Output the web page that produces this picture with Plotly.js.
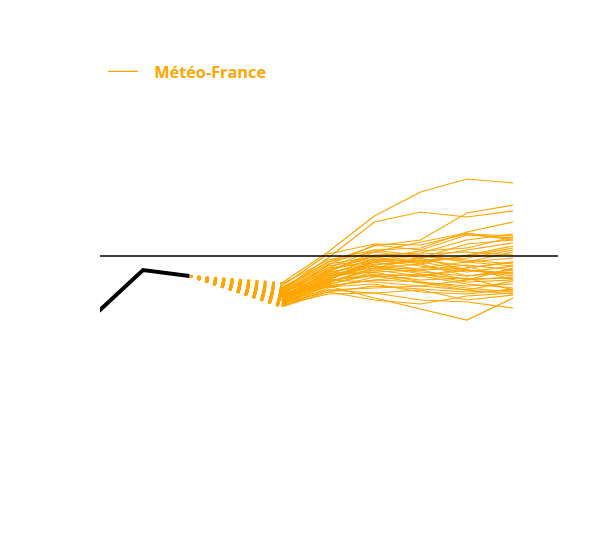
<!DOCTYPE html>
<html>
<head>
<meta charset="utf-8">
<script src="https://cdn.plot.ly/plotly-3.0.1.min.js"></script>
<style>html,body{margin:0;padding:0;background:#fff;}#chart{width:600px;height:540px;}</style>
</head>
<body>
<div id="chart"></div>
<script>
// Observed anomaly (months 0..2) and Météo-France ensemble members (months 4..9)
var obsMonths = [0, 1, 2];
var obsValues = [-1.14, -0.28, -0.40];
var fcMonths = [4, 5, 6, 7, 8, 9];
var members = [
  [-0.54, 0.08, 0.80, 1.28, 1.54, 1.46],
  [-0.68, -0.04, 0.68, 0.88, 0.78, 0.90],
  [-0.64, -0.12, 0.20, 0.32, 0.86, 1.02],
  [-0.72, -0.24, 0.12, 0.16, 0.48, 0.68],
  [-0.60, 0.04, 0.24, 0.22, 0.44, 0.40],
  [-0.78, -0.18, 0.22, 0.12, 0.42, 0.36],
  [-0.84, -0.32, 0.08, 0.28, 0.46, 0.32],
  [-0.74, -0.28, 0.02, 0.06, 0.32, 0.44],
  [-0.88, -0.38, -0.04, 0.10, 0.16, 0.38],
  [-0.80, -0.34, -0.12, -0.04, 0.12, 0.26],
  [-0.68, -0.20, -0.06, -0.12, 0.00, 0.16],
  [-0.92, -0.48, -0.12, 0.02, -0.12, 0.08],
  [-0.86, -0.44, -0.18, -0.08, -0.04, 0.12],
  [-0.96, -0.52, -0.24, -0.16, 0.02, 0.20],
  [-0.82, -0.40, -0.28, -0.24, -0.12, -0.04],
  [-0.90, -0.46, -0.20, -0.28, -0.24, -0.12],
  [-0.76, -0.28, -0.08, -0.20, -0.32, -0.20],
  [-0.98, -0.58, -0.32, -0.28, -0.18, -0.28],
  [-0.94, -0.54, -0.24, -0.32, -0.40, -0.32],
  [-0.84, -0.40, -0.16, -0.12, -0.28, -0.40],
  [-0.88, -0.50, -0.36, -0.40, -0.28, -0.36],
  [-1.00, -0.64, -0.42, -0.36, -0.46, -0.44],
  [-0.80, -0.32, -0.20, -0.36, -0.52, -0.48],
  [-0.92, -0.56, -0.38, -0.48, -0.44, -0.68],
  [-0.96, -0.60, -0.48, -0.52, -0.64, -0.72],
  [-0.86, -0.48, -0.52, -0.60, -0.68, -0.76],
  [-1.02, -0.72, -0.60, -0.66, -0.72, -0.68],
  [-0.90, -0.68, -0.74, -0.88, -0.92, -1.04],
  [-0.80, -0.60, -0.84, -1.06, -1.28, -0.84],
  [-0.94, -0.72, -0.88, -0.96, -0.80, -0.74],
  [-0.98, -0.76, -0.74, -0.68, -0.88, -0.78],
  [-0.84, -0.62, -0.56, -0.72, -0.76, -0.66],
  [-0.72, -0.40, -0.32, -0.52, -0.60, -0.56],
  [-0.88, -0.52, -0.28, -0.40, -0.56, -0.64],
  [-0.78, -0.44, -0.12, -0.08, -0.20, -0.48],
  [-0.66, -0.16, -0.02, -0.16, -0.40, -0.28],
  [-0.74, -0.30, 0.00, 0.00, -0.08, -0.16],
  [-0.90, -0.46, -0.08, 0.04, 0.08, 0.02],
  [-0.80, -0.36, -0.24, -0.04, 0.24, 0.32],
  [-0.70, -0.24, -0.12, -0.28, -0.48, -0.42],
  [-1.00, -0.68, -0.64, -0.60, -0.48, -0.24],
  [-0.64, -0.12, 0.08, -0.04, -0.28, -0.34],
  [-0.56, -0.08, 0.12, 0.00, -0.12, -0.20],
  [-0.94, -0.60, -0.48, -0.40, -0.24, -0.12],
  [-0.82, -0.48, -0.40, -0.54, -0.68, -0.50]
];
var seriesName = '\u00a0\u00a0\u2009Météo-France';
var memberColor = '#FFA500';
var referenceLevel = 0;

var traces = [];
members.forEach(function (m) {
  traces.push({
    x: [obsMonths[obsMonths.length - 1], fcMonths[0]],
    y: [obsValues[obsValues.length - 1], m[0]],
    type: 'scatter', mode: 'lines',
    line: {color: memberColor, width: 2.2, dash: '3px,5.3px'},
    hoverinfo: 'skip', showlegend: false, legendgroup: 'mf'
  });
});
members.forEach(function (m, i) {
  traces.push({
    x: fcMonths, y: m,
    type: 'scatter', mode: 'lines',
    name: seriesName,
    line: {color: memberColor, width: 1.2},
    showlegend: i === 0, legendgroup: 'mf'
  });
});
traces.push({
  x: obsMonths, y: obsValues,
  type: 'scatter', mode: 'lines',
  line: {color: '#000000', width: 4},
  showlegend: false
});

var layout = {
  width: 600, height: 540,
  margin: {l: 100, r: 42, t: 106, b: 34},
  paper_bgcolor: '#ffffff', plot_bgcolor: '#ffffff',
  font: {family: 'Open Sans, sans-serif'},
  xaxis: {range: [0.07, 9.97], showgrid: false, zeroline: false, showticklabels: false, ticks: '', showline: false},
  yaxis: {range: [-5, 3], showgrid: false, zeroline: false, showticklabels: false, ticks: '', showline: false},
  shapes: [{type: 'line', xref: 'paper', x0: 0, x1: 1, yref: 'y', y0: referenceLevel, y1: referenceLevel,
            line: {color: '#000000', width: 1.6}, layer: 'above'}],
  showlegend: true,
  legend: {x: 0.0066, xanchor: 'left', y: 0.8994, yref: 'container', yanchor: 'top',
           font: {color: memberColor, size: 16.3, weight: 'bold'}, bgcolor: 'rgba(0,0,0,0)'}
};
Plotly.newPlot('chart', traces, layout, {displayModeBar: false, staticPlot: true});
</script>
</body>
</html>
